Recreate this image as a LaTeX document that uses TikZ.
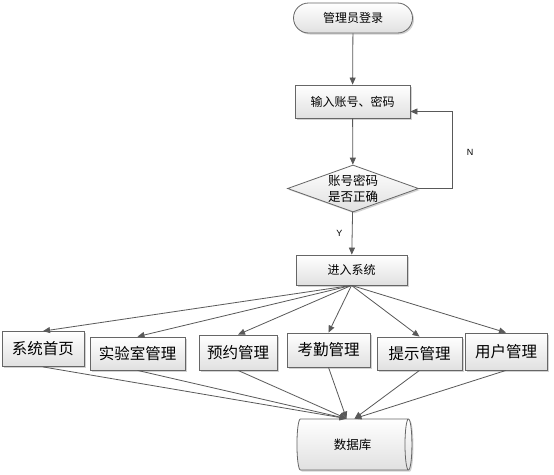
\documentclass[tikz,border=0pt]{standalone}
\usepackage{fontspec}
\newfontfamily\cjk{Noto Sans CJK SC}
\setmainfont{Liberation Sans}
\usetikzlibrary{shapes.geometric,shapes.misc,arrows.meta,shadows}
\begin{document}
\begin{tikzpicture}[x=1pt,y=-1pt,
  line width=0.8pt,
  boxbase/.style={draw=black!60, line width=0.8pt, top color=white, bottom color=black!12,
     drop shadow={shadow xshift=1.5pt, shadow yshift=-1.5pt, opacity=0.35}, inner sep=0pt},
  topbox/.style={boxbase, rectangle, font=\cjk\fontsize{12}{14}\selectfont},
  botbox/.style={boxbase, rectangle, font=\cjk\fontsize{15.5}{18}\selectfont},
  arr/.style={draw=black!65, line width=0.8pt, -{Triangle[length=7pt,width=6pt]}, color=black!65},
  lbl/.style={font=\fontsize{9}{10}\selectfont}
]
\useasboundingbox (0,0) rectangle (554,474);
\fill[white] (0,0) rectangle (554,474);

\node[topbox, rounded rectangle, minimum width=119pt, minimum height=30pt] (start) at (353,18) {管理员登录};
\node[topbox, minimum width=115pt, minimum height=33pt] (input) at (352.5,101.5) {输入账号、密码};
\node[boxbase, diamond, minimum width=131pt, minimum height=47pt, aspect=2.8] (dia) at (353,188.5) {};
\node[font=\cjk\fontsize{12.5}{16}\selectfont, align=center] (diat) at (dia) {账号密码\\是否正确};
\node[topbox, minimum width=111pt, minimum height=30pt] (sys) at (351.5,270) {进入系统};

\node[botbox, minimum width=82pt, minimum height=35pt] (b1) at (43,349) {系统首页};
\node[botbox, minimum width=95pt, minimum height=33pt] (b2) at (137.5,353.5) {实验室管理};
\node[botbox, minimum width=78pt, minimum height=35pt] (b3) at (238,352.5) {预约管理};
\node[botbox, minimum width=83pt, minimum height=34pt] (b4) at (328.5,350) {考勤管理};
\node[botbox, minimum width=85pt, minimum height=33pt] (b5) at (419.5,353.5) {提示管理};
\node[botbox, minimum width=82pt, minimum height=37pt] (b6) at (506,351.5) {用户管理};

\node[boxbase, cylinder, shape border rotate=0, shape aspect=0.6, minimum width=51pt, minimum height=115pt,
  font=\cjk\fontsize{12.5}{14}\selectfont] (db) at (352.5,444.5) {数据库};

\draw[arr] (start) -- (input);
\draw[arr] (input) -- (dia);
\draw[arr] (dia) -- node[lbl, left=6pt, pos=0.5, text=black] (ylab) {Y} (sys);
\draw[arr] (dia.east) -- ++(33,0) |- ([yshift=-10pt]input.east);
\node[lbl] (nlab) at (470,152) {N};

\foreach \b in {b1,b2,b3,b4,b5,b6}{
  \draw[arr] (sys.south) -- (\b.north);
}
\coordinate (dbl) at ([xshift=-6pt]db.north);
\coordinate (dbr) at ([xshift=2pt]db.north);
\foreach \b in {b1,b2,b3,b4}{
  \draw[arr] (\b.south) -- (dbl);
}
\foreach \b in {b5,b6}{
  \draw[arr] (\b.south) -- (dbr);
}
\end{tikzpicture}
\end{document}
